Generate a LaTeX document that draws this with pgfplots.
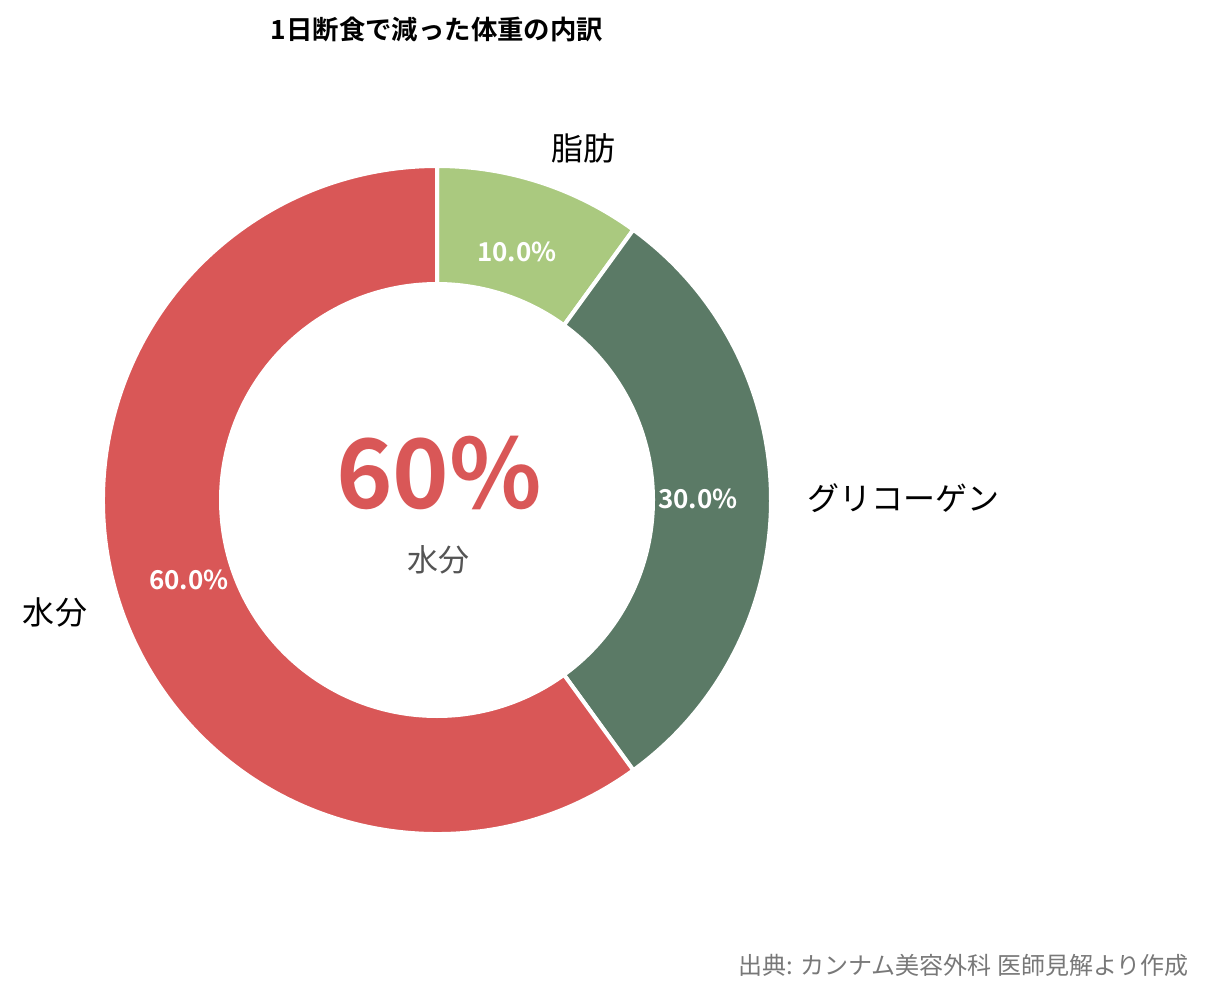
\documentclass[border=0pt]{standalone}
\usepackage{fontspec}
\setmainfont{Noto Sans CJK JP}[BoldFont={Noto Sans CJK JP Bold}]
\usepackage{pgfplots}
\usepackage{pgfplotstable}
\pgfplotsset{compat=1.18}
\usetikzlibrary{calc}
\definecolor{cfat}{HTML}{AAC97F}
\definecolor{cgly}{HTML}{5B7A66}
\definecolor{cwat}{HTML}{D95757}
\pgfplotstableread{
value
10
30
60
}\piedata
\begin{document}
\begin{tikzpicture}
\pgfplotstablegetelem{0}{value}\of\piedata \let\vA\pgfplotsretval
\pgfplotstablegetelem{1}{value}\of\piedata \let\vB\pgfplotsretval
\pgfplotstablegetelem{2}{value}\of\piedata \let\vC\pgfplotsretval
\pgfmathsetmacro{\aO}{90}
\pgfmathsetmacro{\aA}{90-3.6*\vA}
\pgfmathsetmacro{\aB}{\aA-3.6*\vB}
\pgfmathsetmacro{\aC}{\aB-3.6*\vC}
\def\Ro{167pt}
\def\Ri{108pt}
\begin{axis}[
  x=0.5pt, y=0.5pt,
  xmin=0, xmax=1209, ymin=0, ymax=998,
  axis line style={draw=none}, ticks=none,
  clip=false, enlargelimits=false,
]
\coordinate (C) at (axis cs:437,498);
% wedges
\filldraw[fill=cfat, draw=white, line width=2pt]
  ($(C)+(\aO:\Ro)$) arc[start angle=\aO, end angle=\aA, radius=\Ro]
  -- ($(C)+(\aA:\Ri)$) arc[start angle=\aA, end angle=\aO, radius=\Ri] -- cycle;
\filldraw[fill=cgly, draw=white, line width=2pt]
  ($(C)+(\aA:\Ro)$) arc[start angle=\aA, end angle=\aB, radius=\Ro]
  -- ($(C)+(\aB:\Ri)$) arc[start angle=\aB, end angle=\aA, radius=\Ri] -- cycle;
\filldraw[fill=cwat, draw=white, line width=2pt]
  ($(C)+(\aB:\Ro)$) arc[start angle=\aB, end angle=\aC, radius=\Ro]
  -- ($(C)+(\aC:\Ri)$) arc[start angle=\aC, end angle=\aB, radius=\Ri] -- cycle;
% percentage labels
\node[text=white, font=\bfseries\fontsize{13}{15}\selectfont] at (axis cs:517,746) {10.0\%};
\node[text=white, font=\bfseries\fontsize{13}{15}\selectfont] at (axis cs:698,499) {30.0\%};
\node[text=white, font=\bfseries\fontsize{13}{15}\selectfont] at (axis cs:189,418) {60.0\%};
% outside labels
\node[font=\fontsize{16}{19}\selectfont] at (axis cs:583,850) {脂肪};
\node[font=\fontsize{16}{19}\selectfont] at (axis cs:903,500) {グリコーゲン};
\node[font=\fontsize{16}{19}\selectfont] at (axis cs:55,386) {水分};
% center
\node[text=cwat, font=\bfseries\fontsize{48}{56}\selectfont] at (axis cs:439,525) {60\%};
\node[text=black!67, font=\fontsize{15.5}{18}\selectfont] at (axis cs:438,438) {水分};
% title and source
\node[font=\bfseries\fontsize{13.2}{16}\selectfont] at (axis cs:437,969) {1日断食で減った体重の内訳};
\node[anchor=east, inner sep=0pt, text=black!53, font=\fontsize{12}{14}\selectfont] at (axis cs:1189,33) {出典: カンナム美容外科 医師見解より作成};
\end{axis}
\end{tikzpicture}
\end{document}
